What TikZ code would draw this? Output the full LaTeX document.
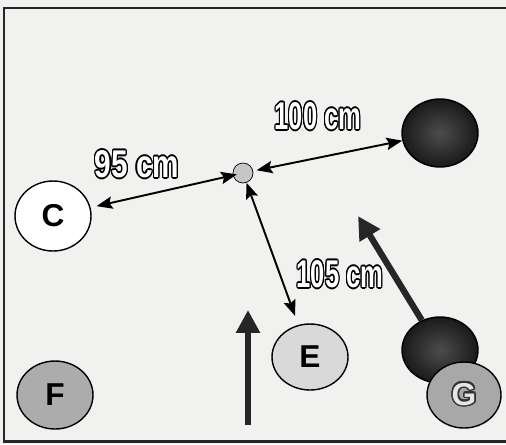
\documentclass[tikz,border=0pt]{standalone}
\usepackage{fontspec}
\setmainfont{Liberation Sans}
\usepackage{contour}
\usetikzlibrary{arrows.meta,positioning,shapes.geometric}
\contourlength{0.9pt}
\definecolor{paper}{RGB}{241,241,239}
\newcommand{\hollow}[2][0.66]{\scalebox{#1}[1]{\contour{black}{\textcolor{white}{#2}}}}
\tikzset{
    %Define standard arrow tip
    >={Stealth[length=9pt,width=7pt,inset=1.5pt]},
    %Define style for the balls
    ball/.style={
      ellipse,
      draw=black, thick,
      minimum width=1.52cm,
      minimum height=1.36cm,
      inner sep=0pt,
      font=\bfseries\fontsize{18}{18}\selectfont},
    darkball/.style={
      ball,
      inner color=black!70,
      outer color=black!90},
    % Define distance arrow style
    dist/.style={
      <->,
      line width=1.1pt},
    % Define push arrow style
    push/.style={
      -{Triangle[length=13pt,width=13pt]},
      line width=3.6pt,
      black!85},
    meas/.style={
      font=\bfseries\fontsize{22}{22}\selectfont,
      inner sep=0pt}
}

\begin{document}
\begin{tikzpicture}[x=0.02cm, y=-0.02cm]
    \useasboundingbox[fill=paper] (0,0) rectangle (506,444);
    \draw[line width=1.7pt, black!85] (4,8) rectangle (512,441);

    % balls on the floor
    \node[ball, fill=gray!45, minimum size=0.4cm, thin] (spot) at (243,173) {};
    \node[ball, fill=white, minimum height=1.4cm] (c) at (53,216) {C};
    \node[darkball] (ballA) at (440,133) {};
    \node[ball, fill=gray!30, minimum height=1.32cm] (e) at (310,357) {E};
    \node[ball, fill=gray!65] (f) at (55,395) {F};
    \node[darkball, minimum height=1.32cm] (ballB) at (440,350) {};
    \node[ball, fill=gray!68, minimum width=1.48cm, minimum height=1.32cm] (g) at (464,395)
      {\contour{black!80}{\textcolor{gray!20}{G}}};

    % free ends of the push arrows
    \coordinate (tipG) at (358,216);
    \coordinate (baseUp) at (248,425);
    \coordinate (tipUp) at (248,310);

    % distances
    \draw[dist, shorten <=3.5pt, shorten >=3.6pt] (c) -- (spot.center);
    \draw[dist, shorten <=2pt] (spot) -- (ballA);
    \draw[dist, shorten >=5.5pt] (spot) -- (e);

    \node[meas] (d95) at (137,165) {\hollow[0.77]{95 cm}};
    \node[meas] (d100) at (318,117) {\hollow{100 cm}};
    \node[meas] (d105) at (340,275) {\hollow{105 cm}};

    % pushes
    \draw[push] (ballB) -- (tipG);
    \draw[push] (baseUp) -- (tipUp);
\end{tikzpicture}
\end{document}
